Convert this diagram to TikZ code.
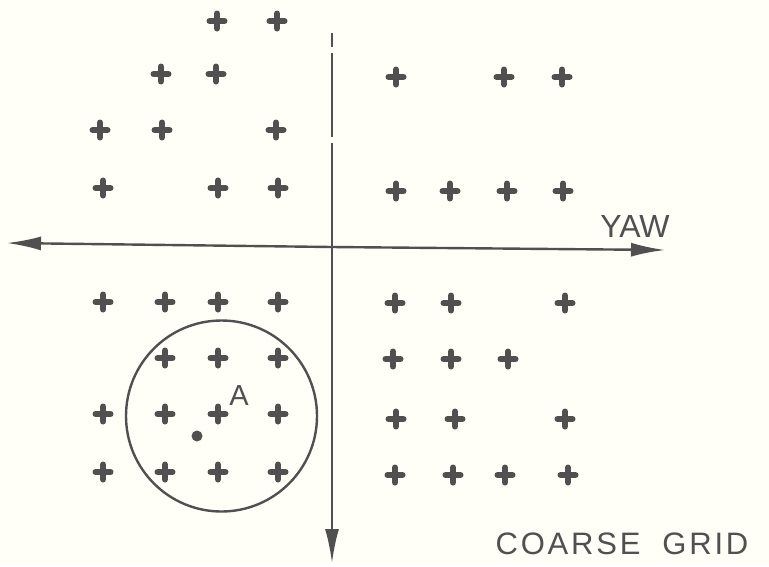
\documentclass[tikz,border=0pt]{standalone}
\usepackage{fontspec}
\setmainfont{Liberation Sans}
\newfontfamily\labfont[LetterSpace=9]{Liberation Sans}
\usetikzlibrary{arrows.meta}
\definecolor{ink}{RGB}{80,80,80}
\definecolor{paper}{RGB}{255,255,248}
\tikzset{
  x=1pt,y=-1pt,
  axisline/.style={draw=ink,line width=2.4pt},
  bigtip/.style={-{Latex[length=34pt,width=14pt]}},
  gridplus/.pic={\draw[ink,line width=6pt,line cap=round] (-7.5,0)--(7.5,0) (0,-7.5)--(0,7.5);},
  lbl/.style={text=ink,inner sep=0pt,font=\fontsize{30}{30}\selectfont}
}
\begin{document}
\begin{tikzpicture}
\fill[paper] (0,0) rectangle (769,566);
\useasboundingbox (0,0) rectangle (769,566);
% grid marks
\foreach \x/\y in {217/21,277/21,
  161/74,216/74,
  100/130,162/130,276/130,
  103/188,218/188,278/188,
  396/77,504/77,562/77,
  396/191,450/191,507/191,563/191,
  103/302,165/302,218/302,278/302,
  165/358,218/358,278/358,
  103/414,165/414,218/414,278/414,
  103/472,165/472,218/472,278/472,
  395/303,451/303,565/303,
  393/359,451/359,508/359,
  396/419,455/419,565/419,
  395/475,453/475,505/475,568/475}
  \pic at (\x,\y) {gridplus};
% axes
\coordinate (hl) at (7,243);
\coordinate (hr) at (665,250);
\coordinate (hm) at (332,247);
\coordinate (vt) at (332,33);
\coordinate (vb) at (332,563);
\draw[axisline,bigtip] (hm) -- (hl);
\draw[axisline,bigtip] (hm) -- (hr);
\draw[axisline] (vt) -- (332,47);
\draw[axisline] (332,53) -- (332,137);
\draw[axisline,bigtip] (332,143) -- (vb);
% circle and point
\node[draw=ink,line width=2.4pt,circle,minimum size=191pt,inner sep=0pt] (zone) at (221.5,416) {};
\fill[ink] (197,436) circle (5.5pt);
\node[lbl,font=\fontsize{29}{29}\selectfont] (A) at (239,396) {A};
\node[lbl,font=\fontsize{32}{32}\selectfont] (yaw) at (635,226) {YAW};
\node[lbl,font=\fontsize{31}{31}\labfont] (cg) at (622,544) {COARSE\hspace{22pt}GRID};
\end{tikzpicture}
\end{document}
